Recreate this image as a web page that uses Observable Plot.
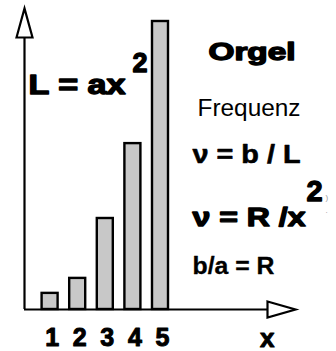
<!DOCTYPE html>
<html>
<head>
<meta charset="utf-8">
<script src="https://cdn.jsdelivr.net/npm/d3@7"></script>
<script src="https://cdn.jsdelivr.net/npm/@observablehq/plot@0.6"></script>
<style>
  html, body { margin: 0; padding: 0; background: #fff; }
  #chart svg { display: block; }
</style>
</head>
<body>
<div id="chart"></div>
<script>
// ---- data ----
const positions = [1, 2, 3, 4, 5];          // x (pipe number)
const lengths = [1.4, 2.7, 7.9, 14.4, 25];  // L = a x^2 (bar heights)
const tickLabels = ["1", "2", "3", "4", "5"];
const axisLabel = "x";
const noteTexts = ["L = ax", "2", "Orgel", "Frequenz", "ν = b / L", "ν = R /x", "2", "b/a = R", ")", "."];

// ---- layout ----
const W = 336, H = 351;
const M = {top: 37, right: 69, bottom: 42, left: 24};
const FONT = "Liberation Sans, Arial, Helvetica, sans-serif";

// [left, baseline, fontSize, weight, strokeWidth (heaviness), targetWidth, colour]
const noteLayout = [
  [28, 93, 28, "bold", 1.4, 97, "#000"],
  [132, 71, 27, "bold", 1.3, null, "#000"],
  [208, 59, 24, "bold", 1.4, 87, "#000"],
  [197, 115, 23, "normal", 0, 103, "#000"],
  [192, 162, 26, "bold", 0.6, 108, "#000"],
  [192, 225, 26, "bold", 1.3, 113, "#000"],
  [306, 200, 29, "bold", 1.3, null, "#000"],
  [192, 273, 23, "bold", 0.3, 82, "#000"],
  [325, 199, 8, "normal", 0, null, "#999"],
  [325, 212, 8, "normal", 0, null, "#999"]
];

const bars = positions.map((x, i) => ({x, L: lengths[i]}));

const upArrow = {draw(ctx) { ctx.moveTo(-8, 0); ctx.lineTo(0, -29); ctx.lineTo(8, 0); ctx.closePath(); }};
const rightArrow = {draw(ctx) { ctx.moveTo(0, -8); ctx.lineTo(28, 0); ctx.lineTo(0, 8); ctx.closePath(); }};

const noteMarks = noteTexts.map((t, i) => {
  const [left, base, fs, fw, sw, , col] = noteLayout[i];
  return Plot.text([t], {
    text: d => d,
    frameAnchor: "top-left",
    dx: left - M.left,
    dy: base - M.top,
    textAnchor: "start",
    lineAnchor: "bottom",
    fontSize: fs,
    fontWeight: fw,
    fill: col,
    stroke: sw ? col : undefined,
    strokeWidth: sw ? sw : undefined,
    ariaLabel: () => "note-" + i
  });
});

const svg = Plot.plot({
  width: W,
  height: H,
  marginTop: M.top,
  marginRight: M.right,
  marginBottom: M.bottom,
  marginLeft: M.left,
  style: {fontFamily: FONT, background: "#fff", color: "#000", overflow: "visible"},
  x: {type: "linear", domain: [0, 5], range: [M.left, 162], axis: null},
  y: {domain: [0, 25], range: [H - M.bottom, 21], axis: null},
  marks: [
    Plot.rectY(bars, {
      x1: d => d.x - 0.29, x2: d => d.x + 0.29, y: "L",
      dx: -2, fill: "#c8c8c8", stroke: "#000", strokeWidth: 2.4, inset: 0
    }),
    Plot.ruleY([0], {stroke: "#000", strokeWidth: 2.2}),
    Plot.ruleX([0], {stroke: "#000", strokeWidth: 2.2}),
    Plot.dot([0], {frameAnchor: "top-left", symbol: upArrow, fill: "#fff", stroke: "#000", strokeWidth: 2.2}),
    Plot.dot([0], {frameAnchor: "bottom-right", symbol: rightArrow, fill: "#fff", stroke: "#000", strokeWidth: 2.2}),
    Plot.text(positions, {
      x: d => d, text: (d, i) => tickLabels[i],
      frameAnchor: "bottom", dy: 36, lineAnchor: "bottom",
      fontSize: 25, fontWeight: "bold", fill: "#000", stroke: "#000", strokeWidth: 1
    }),
    Plot.text([axisLabel], {
      text: d => d, frameAnchor: "bottom-right", dx: 7, dy: 37, lineAnchor: "bottom",
      fontSize: 26, fontWeight: "bold", fill: "#000", stroke: "#000", strokeWidth: 1
    }),
    ...noteMarks
  ]
});

// stretch the wide, heavy lettering of the reference to its measured widths
noteLayout.forEach((l, i) => {
  const w = l[5];
  if (!w) return;
  svg.querySelectorAll(`[aria-label="note-${i}"]`).forEach(el => {
    const t = el.tagName.toLowerCase() === "text" ? [el] : el.querySelectorAll("text");
    t.forEach(tx => {
      tx.setAttribute("textLength", w);
      tx.setAttribute("lengthAdjust", "spacingAndGlyphs");
    });
  });
});

document.getElementById("chart").appendChild(svg);
</script>
</body>
</html>
